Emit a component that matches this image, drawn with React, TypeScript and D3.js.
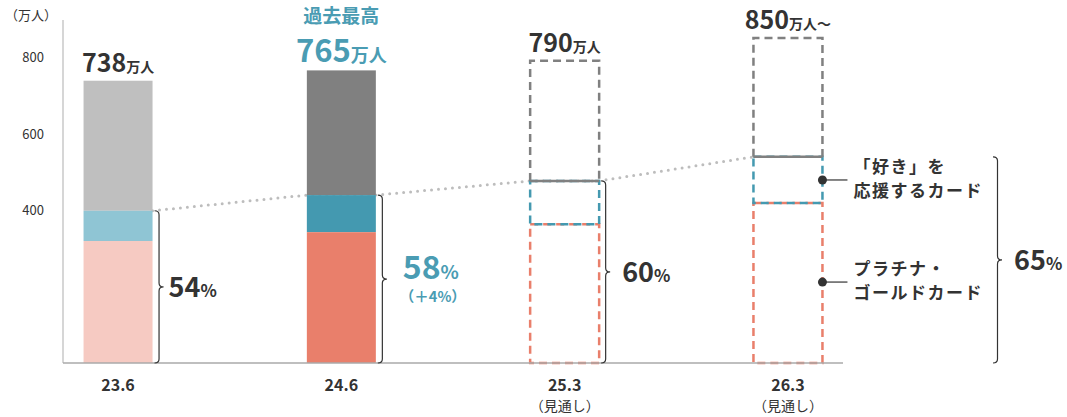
import React, { useEffect } from 'react';
import * as d3 from 'd3';

// 年月（期末）
const categories = ['23.6', '24.6', '25.3', '26.3'];
const subLabels = ['', '', '（見通し）', '（見通し）'];
const forecast = [false, false, true, true];
// 会員数（万人）
const totals = [738, 765, 790, 850];
const premiumCard = [319, 342, 363, 418]; // プラチナ・ゴールドカード
const supportCard = [79, 97, 113, 121]; // 「好き」を応援するカード
const shareLabels = ['54', '58', '60', '65'];
const totalSuffix = ['万人', '万人', '万人', '万人～'];
const yTicks = [400, 600, 800];

const W = 1067;
const H = 417;
const FONT = "'Noto Sans CJK JP', 'Noto Sans', sans-serif";
const DARK = '#333333';
const TEAL = '#4a9cb3';

const past = [
  { gray: '#bfbfbf', blue: '#8fc5d4', red: '#f6cac2' },
  { gray: '#808080', blue: '#4499b0', red: '#e97f6b' },
];

function brace(x0: number, y0: number, y1: number, w = 8) {
  const xm = x0 + w / 2;
  const mid = (y0 + y1) / 2;
  const r = 4;
  return `M${x0},${y0} Q${xm},${y0} ${xm},${y0 + r} L${xm},${mid - r} Q${xm},${mid} ${x0 + w},${mid} Q${xm},${mid} ${xm},${mid + r} L${xm},${y1 - r} Q${xm},${y1} ${x0},${y1}`;
}

export default function App() {
  useEffect(() => {
    document.body.style.margin = '0';
  }, []);

  const y = d3.scaleLinear().domain([0, 800]).range([363, 57]);
  const x = d3.scaleBand<string>()
    .domain(categories)
    .range([63, 843])
    .paddingInner(0.691)
    .paddingOuter(0.092);
  const bw = x.bandwidth();

  const stackTop = categories.map((_, i) => premiumCard[i] + supportCard[i]);

  // dotted trend line between stacked tops
  const trendPts: [number, number][] = [];
  categories.forEach((c, i) => {
    if (i > 0) trendPts.push([x(c)!, y(stackTop[i])]);
    if (i < categories.length - 1) trendPts.push([x(c)! + bw, y(stackTop[i])]);
  });
  const trend = d3.line()(trendPts) || '';

  const dash = '8,5';
  const labelGap = [14, 25, 21, 21];

  return (
    <svg width={W} height={H} style={{ display: 'block', fontFamily: FONT }}>
      <rect width={W} height={H} fill="#fff" />

      {/* y axis */}
      <text x={5} y={20} fontSize={13} fill={DARK}>（万人）</text>
      <line x1={63} x2={63} y1={20} y2={y(0)} stroke="#c8c8c8" strokeWidth={1.5} />
      {yTicks.map(t => (
        <text key={t} x={44} y={y(t) + 5} fontSize={13} fill={DARK} textAnchor="end">{t}</text>
      ))}

      {/* trend */}
      <path d={trend} fill="none" stroke="#bdbdbd" strokeWidth={3} strokeDasharray="0,7" strokeLinecap="round" />

      {categories.map((c, i) => {
        const x0 = x(c)!;
        const yRed = y(premiumCard[i]);
        const yBlue = y(stackTop[i]);
        const yTop = y(totals[i]);
        const y0 = y(0);
        if (!forecast[i]) {
          const col = past[i];
          return (
            <g key={c}>
              <rect x={x0} y={yTop} width={bw} height={yBlue - yTop} fill={col.gray} />
              <rect x={x0} y={yBlue} width={bw} height={yRed - yBlue} fill={col.blue} />
              <rect x={x0} y={yRed} width={bw} height={y0 - yRed} fill={col.red} />
            </g>
          );
        }
        return (
          <g key={c} fill="none" strokeWidth={2.5} strokeDasharray={dash}>
            <rect x={x0} y={yRed} width={bw} height={y0 - yRed} stroke="#e97f6b" />
            <rect x={x0} y={yBlue} width={bw} height={yRed - yBlue} stroke="#4499b0" />
            <path d={`M${x0},${yBlue} V${yTop} H${x0 + bw} V${yBlue}`} stroke="#808080" />
            <line x1={x0} x2={x0 + bw} y1={yBlue} y2={yBlue} stroke="#808080" strokeDasharray="none" />
          </g>
        );
      })}

      {/* baseline */}
      <line x1={63} x2={843} y1={y(0)} y2={y(0)} stroke="#aaaaaa" strokeWidth={1.5} />

      {/* total labels */}
      {categories.map((c, i) => {
        const cx = x(c)! + bw / 2;
        const isRecord = i === 1;
        const ty = isRecord ? 62 : y(totals[i]) - 9;
        return (
          <g key={c} fontWeight="bold" fill={isRecord ? TEAL : DARK}>
            {isRecord && (
              <text x={cx} y={23} fontSize={19} textAnchor="middle">過去最高</text>
            )}
            <text x={cx} y={ty} textAnchor="middle">
              <tspan fontSize={isRecord ? 31 : 25}>{totals[i]}</tspan>
              <tspan fontSize={isRecord ? 18 : 14}>{totalSuffix[i]}</tspan>
            </text>
          </g>
        );
      })}

      {/* braces and shares */}
      {categories.map((c, i) => {
        const last = i === categories.length - 1;
        const bx = last ? 993 : x(c)! + bw + 2;
        const yB = y(stackTop[i]);
        const y0 = y(0);
        const mid = (yB + y0) / 2;
        const isTeal = i === 1;
        const fs = isTeal ? 32 : 27;
        return (
          <g key={c}>
            <path d={brace(bx, yB, y0, 9)} fill="none" stroke={DARK} strokeWidth={1.2} />
            <text x={bx + labelGap[i]} y={mid + (isTeal ? 0 : 10)} fontWeight="bold" fill={isTeal ? TEAL : DARK}>
              <tspan fontSize={fs}>{shareLabels[i]}</tspan>
              <tspan fontSize={isTeal ? 19 : 17}>%</tspan>
            </text>
            {isTeal && (
              <text x={bx + labelGap[i] - 3} y={mid + 23} fontSize={14.5} fontWeight="bold" fill={TEAL}>（＋4%）</text>
            )}
          </g>
        );
      })}

      {/* segment callouts */}
      {(() => {
        const i = categories.length - 1;
        const xr = x(categories[i])! + bw;
        const yS = (y(stackTop[i]) + y(premiumCard[i])) / 2;
        const yP = (y(premiumCard[i]) + y(0)) / 2 - 1;
        const items = [
          { yy: yS, lines: ['「好き」を', '応援するカード'] },
          { yy: yP, lines: ['プラチナ・', 'ゴールドカード'] },
        ];
        return items.map((it, k) => (
          <g key={k}>
            <circle cx={xr} cy={it.yy} r={4.5} fill={DARK} />
            <line x1={xr} x2={xr + 25} y1={it.yy} y2={it.yy} stroke={DARK} strokeWidth={1.2} />
            {it.lines.map((t, j) => (
              <text key={j} x={xr + 31} y={it.yy - 7 + j * 24} fontSize={17} fontWeight="bold"
                fill={DARK} letterSpacing={1.5}>{t}</text>
            ))}
          </g>
        ));
      })()}

      {/* x labels */}
      {categories.map((c, i) => {
        const cx = x(c)! + bw / 2;
        return (
          <g key={c} fill={DARK} textAnchor="middle">
            <text x={cx} y={391} fontSize={16} fontWeight="bold">{c}</text>
            {subLabels[i] && <text x={cx} y={411} fontSize={14}>{subLabels[i]}</text>}
          </g>
        );
      })}
    </svg>
  );
}
